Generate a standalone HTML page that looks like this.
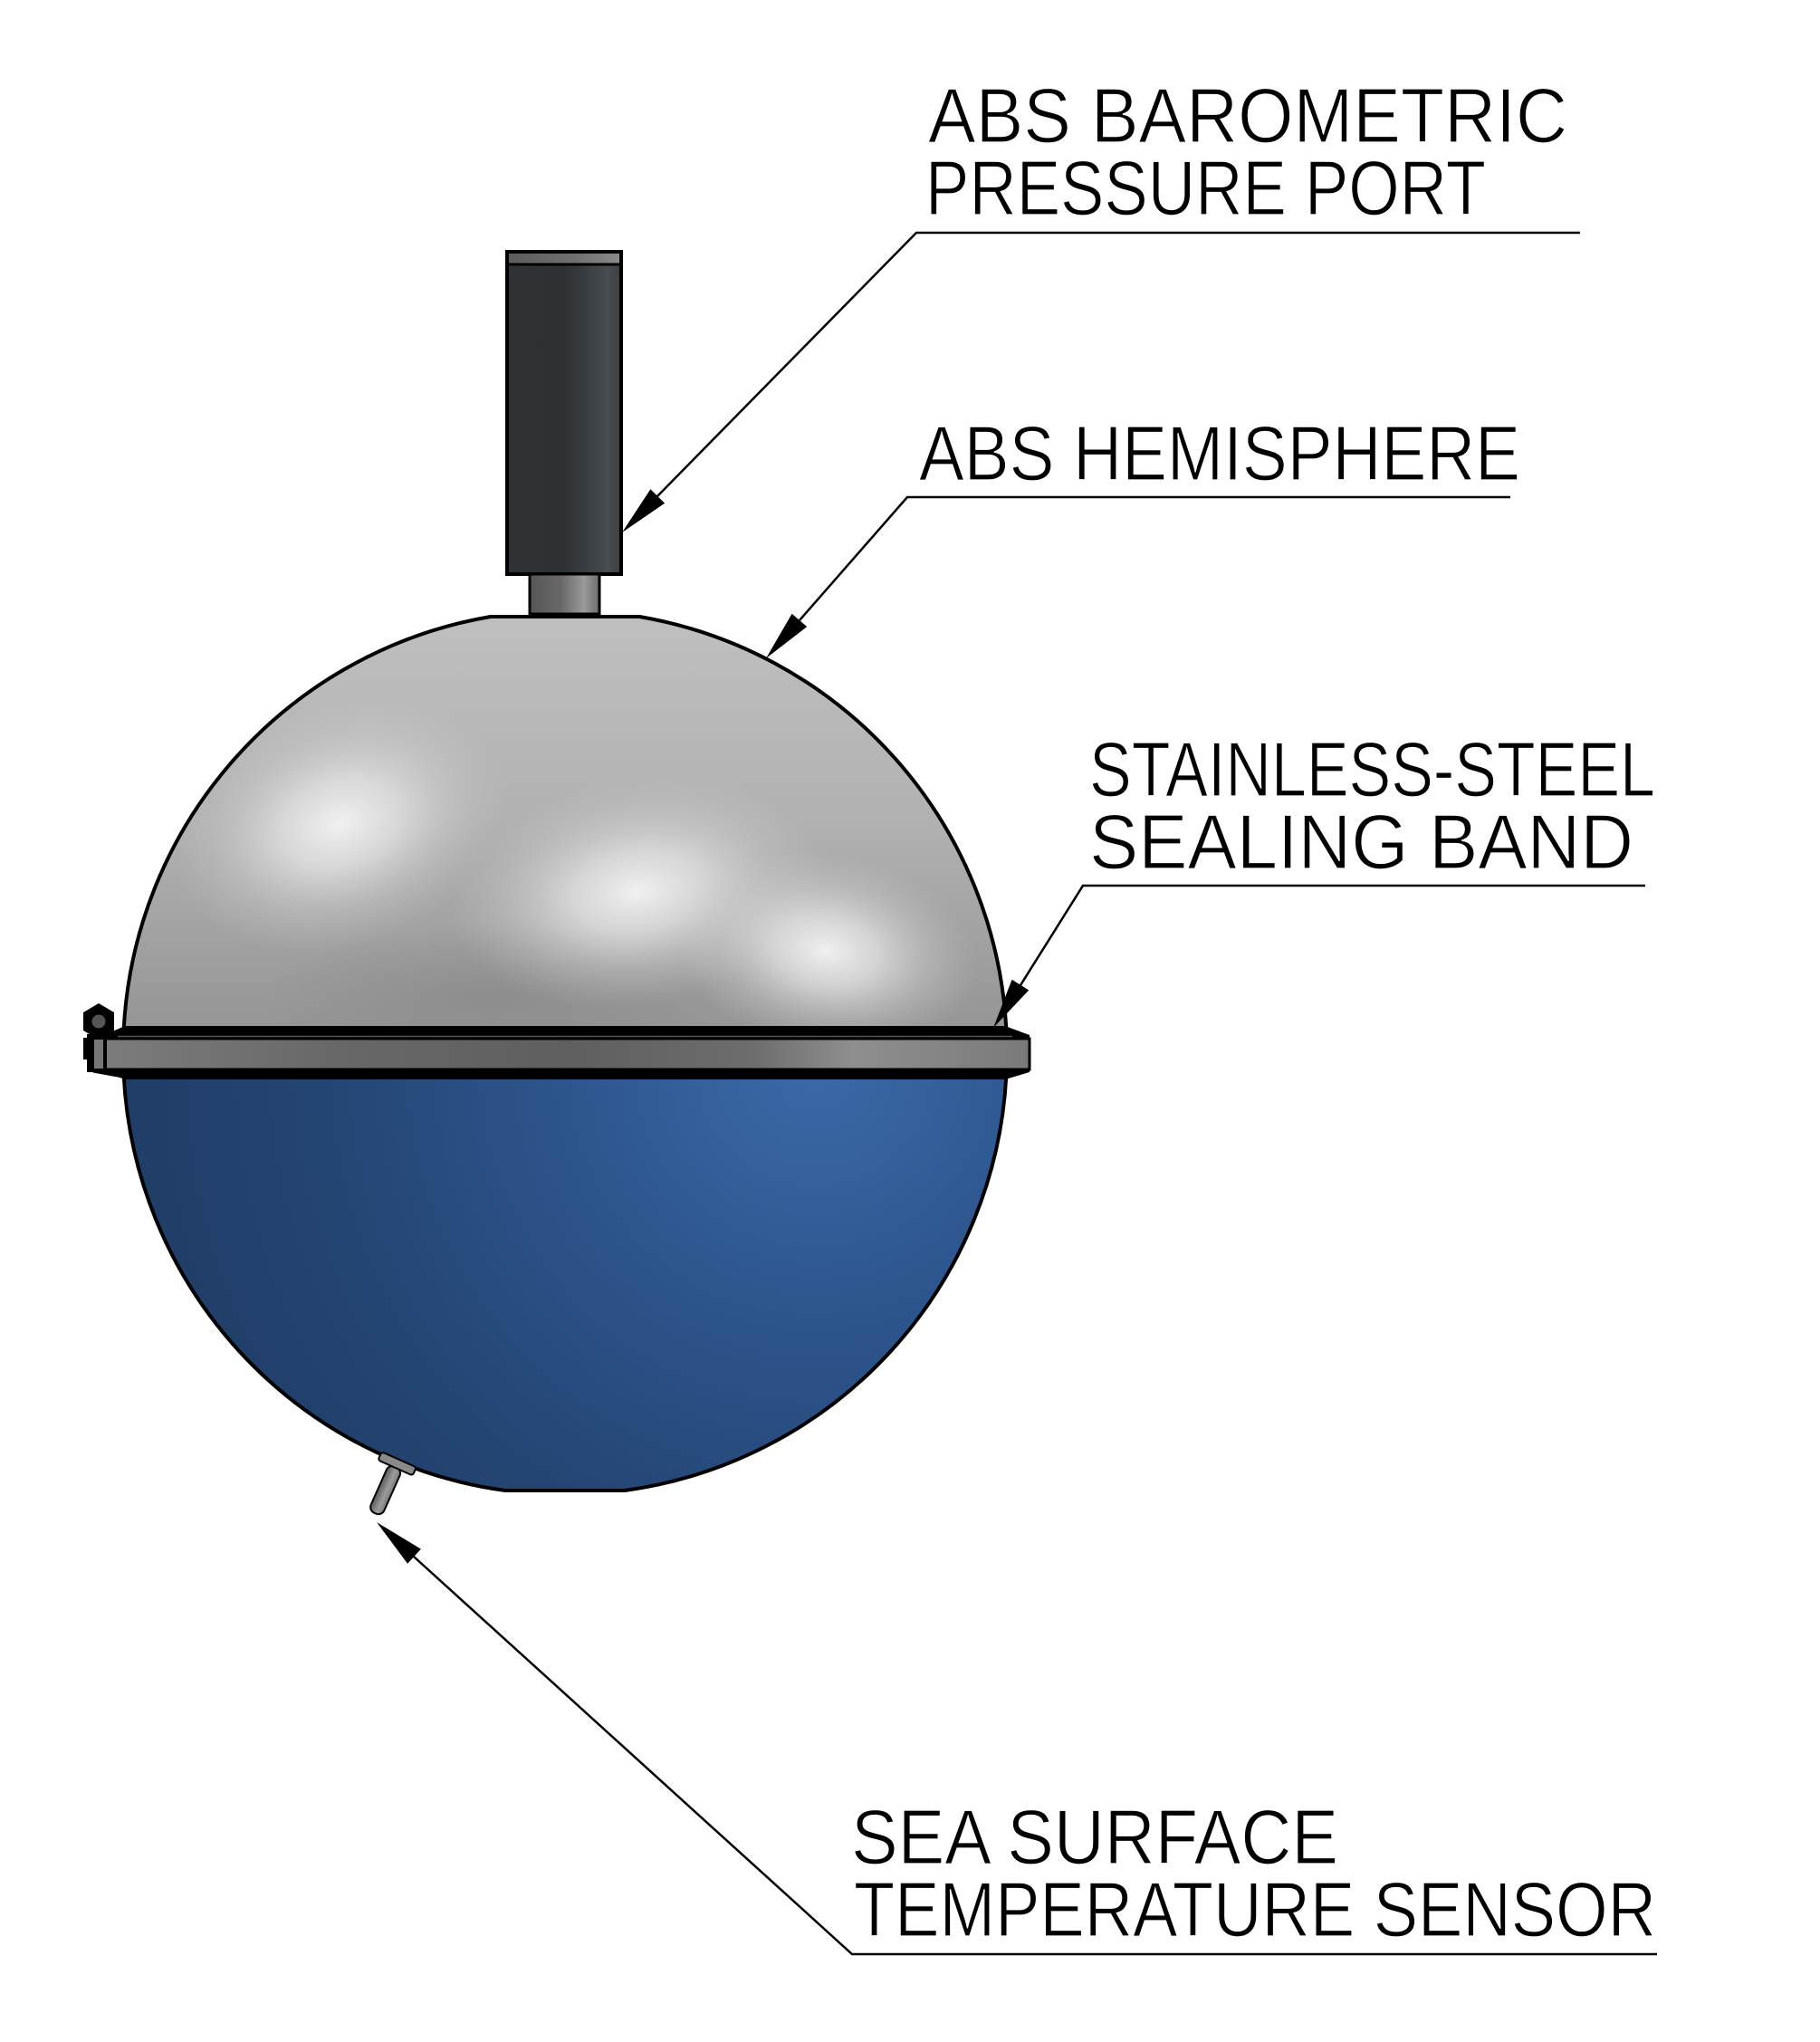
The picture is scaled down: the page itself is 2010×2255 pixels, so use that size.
<!DOCTYPE html>
<html>
<head>
<meta charset="utf-8">
<style>
  html,body{margin:0;padding:0;background:#fff;}
  svg{display:block;}
  text{font-family:"Liberation Sans", Arial, sans-serif;font-size:85px;fill:#000;stroke:#fff;stroke-width:1.3;}
</style>
</head>
<body>
<svg width="2010" height="2255" viewBox="0 0 2010 2255" xmlns="http://www.w3.org/2000/svg">
  <defs>
    <linearGradient id="grayBase" x1="0" y1="681" x2="0" y2="1136" gradientUnits="userSpaceOnUse">
      <stop offset="0" stop-color="#bfbfbf"/>
      <stop offset="0.5" stop-color="#b1b1b1"/>
      <stop offset="1" stop-color="#959595"/>
    </linearGradient>
    <radialGradient id="hl" cx="0.5" cy="0.5" r="0.5">
      <stop offset="0" stop-color="#f4f4f4" stop-opacity="0.95"/>
      <stop offset="0.35" stop-color="#e8e8e8" stop-opacity="0.7"/>
      <stop offset="0.7" stop-color="#d4d4d4" stop-opacity="0.3"/>
      <stop offset="1" stop-color="#c8c8c8" stop-opacity="0"/>
    </radialGradient>
    <radialGradient id="dk" cx="0.5" cy="0.5" r="0.5">
      <stop offset="0" stop-color="#888" stop-opacity="0.7"/>
      <stop offset="1" stop-color="#888" stop-opacity="0"/>
    </radialGradient>
    <radialGradient id="blue" cx="900" cy="1180" r="800" gradientUnits="userSpaceOnUse">
      <stop offset="0" stop-color="#3b69a7"/>
      <stop offset="0.35" stop-color="#2d558d"/>
      <stop offset="0.7" stop-color="#244472"/>
      <stop offset="1" stop-color="#203c65"/>
    </radialGradient>
    <linearGradient id="band" x1="115" y1="0" x2="1137" y2="0" gradientUnits="userSpaceOnUse">
      <stop offset="0" stop-color="#7c7c7c"/>
      <stop offset="0.25" stop-color="#686868"/>
      <stop offset="0.5" stop-color="#5f5f5f"/>
      <stop offset="0.7" stop-color="#6d6d6d"/>
      <stop offset="0.81" stop-color="#8e8e8e"/>
      <stop offset="0.9" stop-color="#858585"/>
      <stop offset="1" stop-color="#7a7a7a"/>
    </linearGradient>
    <linearGradient id="cyl" x1="560" y1="0" x2="686" y2="0" gradientUnits="userSpaceOnUse">
      <stop offset="0" stop-color="#2f3235"/>
      <stop offset="0.5" stop-color="#2e3134"/>
      <stop offset="0.62" stop-color="#35393c"/>
      <stop offset="0.8" stop-color="#41464a"/>
      <stop offset="0.88" stop-color="#484d51"/>
      <stop offset="1" stop-color="#3c4043"/>
    </linearGradient>
    <linearGradient id="cap" x1="560" y1="0" x2="686" y2="0" gradientUnits="userSpaceOnUse">
      <stop offset="0" stop-color="#5c5c5c"/>
      <stop offset="0.6" stop-color="#707070"/>
      <stop offset="1" stop-color="#8a8a8a"/>
    </linearGradient>
    <linearGradient id="neck" x1="585" y1="0" x2="662" y2="0" gradientUnits="userSpaceOnUse">
      <stop offset="0" stop-color="#565656"/>
      <stop offset="0.45" stop-color="#686868"/>
      <stop offset="0.78" stop-color="#9a9a9a"/>
      <stop offset="1" stop-color="#6c6c6c"/>
    </linearGradient>
    <linearGradient id="rod" x1="0" y1="0" x2="1" y2="0">
      <stop offset="0" stop-color="#5a5a5a"/>
      <stop offset="0.6" stop-color="#9c9c9c"/>
      <stop offset="1" stop-color="#777"/>
    </linearGradient>
    <clipPath id="topClip">
      <path d="M136.7,1136 A488,488 0 0 1 541.6,681 L706.4,681 A488,488 0 0 1 1111.3,1136 Z"/>
    </clipPath>
  </defs>

  <!-- Pressure port cylinder -->
  <rect x="560" y="278" width="126" height="356" fill="url(#cyl)" stroke="#000" stroke-width="4"/>
  <rect x="562" y="280" width="122" height="11" fill="url(#cap)"/>
  <line x1="560" y1="292" x2="686" y2="292" stroke="#000" stroke-width="3"/>
  <!-- neck -->
  <rect x="585" y="634" width="77" height="47" fill="url(#neck)" stroke="#000" stroke-width="3"/>
  <line x1="585" y1="678" x2="662" y2="678" stroke="#000" stroke-width="3"/>

  <!-- Upper grey hemisphere -->
  <path d="M136.7,1136 A488,488 0 0 1 541.6,681 L706.4,681 A488,488 0 0 1 1111.3,1136 Z" fill="url(#grayBase)"/>
  <g clip-path="url(#topClip)">
    <ellipse cx="545" cy="1100" rx="260" ry="80" fill="url(#dk)"/>
    <ellipse cx="375" cy="910" rx="190" ry="135" fill="url(#hl)" transform="rotate(-20 375 910)"/>
    <ellipse cx="704" cy="985" rx="210" ry="125" fill="url(#hl)" transform="rotate(-8 704 985)"/>
    <ellipse cx="912" cy="1050" rx="170" ry="110" fill="url(#hl)" transform="rotate(10 912 1050)"/>
  </g>
  <path d="M136.7,1136 A488,488 0 0 1 541.6,681 L706.4,681 A488,488 0 0 1 1111.3,1136" fill="none" stroke="#000" stroke-width="4"/>

  <!-- Lower blue hemisphere -->
  <path d="M136.7,1188 L1111.3,1188 A488,488 0 0 1 690,1646 L558,1646 A488,488 0 0 1 136.7,1188 Z" fill="url(#blue)" stroke="#000" stroke-width="4"/>

  <!-- Sensor -->
  <g transform="translate(437,1620) rotate(24)">
    <rect x="-8" y="0" width="16" height="56" rx="7" fill="url(#rod)" stroke="#000" stroke-width="2"/>
    <rect x="-21" y="-9" width="42" height="10" rx="3" fill="#8a8a8a" stroke="#000" stroke-width="2"/>
  </g>

  <!-- Sealing band -->
  <polygon points="138,1133 1110,1133 1137,1143 1137,1184 1110,1192 138,1192 115,1184 115,1143" fill="#000"/>
  <rect x="115" y="1147" width="1022" height="34" fill="url(#band)" stroke="#000" stroke-width="3"/>
  <line x1="130" y1="1144.5" x2="1118" y2="1144.5" stroke="#555" stroke-width="1.5"/>
  <!-- left bracket and nut -->
  <rect x="96" y="1142" width="22" height="42" fill="#000"/>
  <rect x="104" y="1148" width="10" height="32" fill="#777"/>
  <rect x="92" y="1146" width="6" height="24" fill="#000"/>
  <line x1="103" y1="1183" x2="136" y2="1189" stroke="#000" stroke-width="3"/>
  <polygon points="109,1108 126,1118 126,1138 109,1148 92,1138 92,1118" fill="#000"/>
  <circle cx="109" cy="1128" r="7.5" fill="#555"/>

  <!-- Leaders -->
  <g stroke="#000" stroke-width="2.5" fill="none">
    <polyline points="1745,257 1012,257 726,548"/>
    <polyline points="1668,549 1002,549 883,685"/>
    <polyline points="1817,978 1196,978 1127,1088"/>
    <polyline points="1830,2158 941,2158 457,1719"/>
  </g>
  <g fill="#000">
    <polygon points="687,588 734.1,555.7 718.4,540.3"/>
    <polygon points="846,727 891.2,692.1 874.6,677.7"/>
    <polygon points="1097,1135 1136.2,1093.5 1117.6,1081.7"/>
    <polygon points="416,1681 450.1,1726.8 464.9,1710.6"/>
  </g>

  <!-- Labels -->
  <text x="1025" y="157" textLength="706" lengthAdjust="spacingAndGlyphs">ABS BAROMETRIC</text>
  <text x="1022" y="237" textLength="619" lengthAdjust="spacingAndGlyphs">PRESSURE PORT</text>
  <text x="1015" y="530" textLength="664" lengthAdjust="spacingAndGlyphs">ABS HEMISPHERE</text>
  <text x="1203" y="879" textLength="625" lengthAdjust="spacingAndGlyphs">STAINLESS-STEEL</text>
  <text x="1203" y="959" textLength="601" lengthAdjust="spacingAndGlyphs">SEALING BAND</text>
  <text x="940" y="2058" textLength="538" lengthAdjust="spacingAndGlyphs">SEA SURFACE</text>
  <text x="943" y="2138" textLength="886" lengthAdjust="spacingAndGlyphs">TEMPERATURE SENSOR</text>
</svg>
</body>
</html>
